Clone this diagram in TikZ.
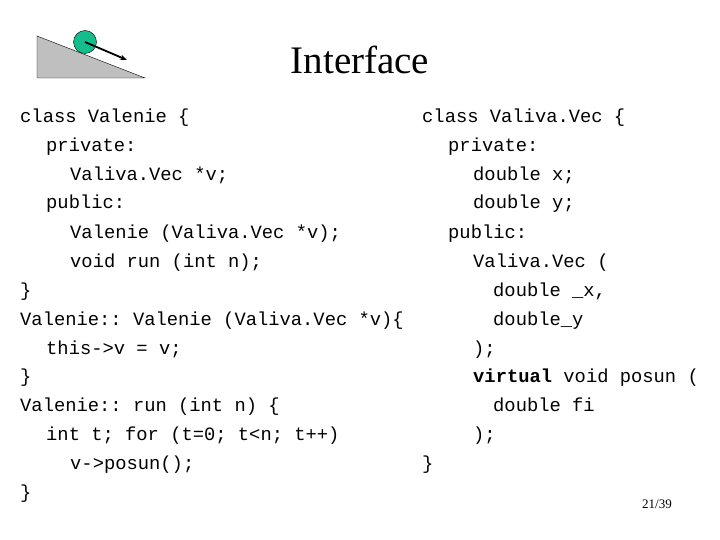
\documentclass[tikz,border=0pt]{standalone}
\usepackage{fontspec}
\usetikzlibrary{arrows.meta}
\setmainfont{Liberation Serif}
\setmonofont{Liberation Mono}
\definecolor{ballc}{RGB}{20,190,140}
\begin{document}
\begin{tikzpicture}[x=1pt,y=-1pt,
  code/.style={anchor=base west,inner sep=0pt,font=\fontsize{18.8}{20}\selectfont\ttfamily}]
\useasboundingbox (0,0) rectangle (720,540);
\fill[white] (0,0) rectangle (720,540);
% icon
\draw[fill=black!25] (37,36) -- (37,78) -- (145,78) -- cycle;
\node[circle,draw=black,fill=ballc,minimum size=23pt,inner sep=0pt] (ball) at (85,42) {};
\coordinate (tip) at (127,60);
\draw[line width=1.8pt,-{Stealth[length=7pt]}] (ball.center) -- (tip);
\node[font=\fontsize{39}{40}\selectfont] (title) at (360,60) {Interface};
% left column
\foreach \t/\x/\y [count=\i] in {
 {class Valenie \{}/20/117, {private:}/46/146, {Valiva.Vec *v;}/70/175, {public:}/46/203,
 {Valenie (Valiva.Vec *v);}/70/232, {void run (int n);}/70/261, {\}}/20/290,
 {Valenie:: Valenie (Valiva.Vec *v)\{}/20/319, {this->v = v;}/46/348, {\}}/20/376,
 {Valenie:: run (int n) \{}/20/405, {int t; for (t=0; t<n; t++)}/46/434,
 {v->posun();}/70/463, {\}}/20/492}
  \node[code] (l\i) at (\x,\y+6) {\t};
% right column
\foreach \t/\x/\y [count=\i] in {
 {class Valiva.Vec \{}/422/117, {private:}/448/146, {double x;}/473/175, {double y;}/473/203,
 {public:}/448/232, {Valiva.Vec (}/473/261, {double \_x,}/493/290, {double\_y}/493/319,
 {);}/473/348, {\textbf{virtual} void posun (}/473/376, {double fi}/493/405, {);}/473/434,
 {\}}/422/463}
  \node[code] (r\i) at (\x,\y+6) {\t};
\node[font=\fontsize{13}{14}\selectfont] (pg) at (657,504) {21/39};
\end{tikzpicture}
\end{document}
